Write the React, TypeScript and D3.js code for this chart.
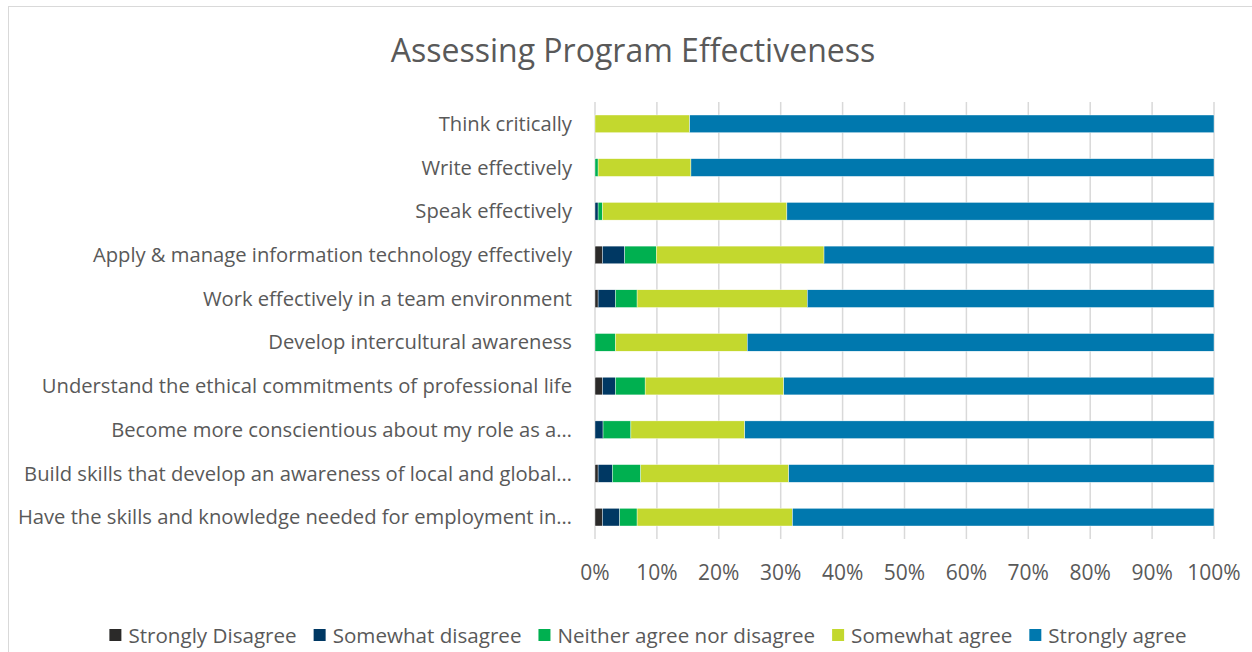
import { useEffect, useRef } from 'react'
import * as d3 from 'd3';

const categories = [
  "Think critically",
  "Write effectively",
  "Speak effectively",
  "Apply & manage information technology effectively",
  "Work effectively in a team environment",
  "Develop intercultural awareness",
  "Understand the ethical commitments of professional life",
  "Become more conscientious about my role as a…",
  "Build skills that develop an awareness of local and global…",
  "Have the skills and knowledge needed for employment in…",
];

const seriesNames = ["Strongly Disagree", "Somewhat disagree", "Neither agree nor disagree", "Somewhat agree", "Strongly agree"];
const seriesColors = ["#2b2a29", "#003863", "#00b050", "#c3d82e", "#0078ae"];

// percentages per category, in the order above
const stronglyDisagree = [0, 0, 0, 1.2, 0.5, 0, 1.2, 0, 0.5, 1.2];
const somewhatDisagree = [0, 0, 0.5, 3.6, 2.8, 0, 2.1, 1.3, 2.3, 2.8];
const neitherAgree = [0, 0.5, 0.7, 5.1, 3.5, 3.3, 4.8, 4.5, 4.6, 2.8];
const somewhatAgree = [15.3, 15.0, 29.8, 27.1, 27.5, 21.3, 22.4, 18.4, 23.9, 25.1];
const stronglyAgree = [84.7, 84.5, 69.0, 63.0, 65.7, 75.4, 69.5, 75.8, 68.7, 68.1];

const tickValues = [0, 10, 20, 30, 40, 50, 60, 70, 80, 90, 100];

const App = () => {
  const canvas = useRef<SVGSVGElement>(null);

  useEffect(() => {
    const width = 1252, height = 652;
    const marginTop = 102, marginBottom = 113, marginLeft = 595, marginRight = 38;
    const font = "'Open Sans', sans-serif";
    const textColor = "#595959";

    const svg = d3.select(canvas.current);
    svg.selectAll("*").remove();

    // Chart frame
    svg.append("rect")
      .attr("x", 8.5).attr("y", 6.5)
      .attr("width", width).attr("height", height)
      .attr("fill", "#fff")
      .attr("stroke", "#d9d9d9");

    // Prep data
    const cols = [stronglyDisagree, somewhatDisagree, neitherAgree, somewhatAgree, stronglyAgree];
    const rows = categories.map((c, i) => {
      const r: any = { cat: c };
      seriesNames.forEach((s, j) => r[s] = cols[j][i]);
      return r;
    });
    const stacked = d3.stack().keys(seriesNames)(rows);

    const x = d3.scaleLinear()
      .domain([0, 100])
      .range([marginLeft, width - marginRight]);

    const y = d3.scaleBand()
      .domain(categories)
      .range([marginTop, height - marginBottom])
      .paddingInner(0.595)
      .paddingOuter(0.2975);

    // Gridlines
    svg.append("g")
      .selectAll()
      .data(tickValues)
      .join("line")
      .attr("x1", (d) => x(d)).attr("x2", (d) => x(d))
      .attr("y1", marginTop).attr("y2", height - marginBottom)
      .attr("stroke", "#d9d9d9")
      .attr("stroke-width", 1.5);

    // Bars
    svg.append("g")
      .selectAll("g")
      .data(stacked)
      .join("g")
      .attr("fill", (d, i) => seriesColors[i])
      .selectAll("rect")
      .data((d) => d.filter((v) => v[1] - v[0] > 0))
      .join("rect")
      .attr("x", (d) => x(d[0]))
      .attr("y", (d: any) => y(d.data.cat))
      .attr("width", (d) => x(d[1]) - x(d[0]))
      .attr("height", y.bandwidth())
      .attr("stroke", "#fff")
      .attr("stroke-width", 0.4);

    // Category labels
    svg.append("g")
      .selectAll()
      .data(categories)
      .join("text")
      .attr("x", marginLeft - 23)
      .attr("y", (d) => y(d) + y.bandwidth() / 2)
      .attr("dy", "0.35em")
      .attr("text-anchor", "end")
      .attr("font-family", font)
      .attr("font-size", 20.2)
      .attr("fill", textColor)
      .text((d) => d);

    // Tick labels
    svg.append("g")
      .selectAll()
      .data(tickValues)
      .join("text")
      .attr("x", (d) => x(d))
      .attr("y", 580)
      .attr("text-anchor", "middle")
      .attr("font-family", font)
      .attr("font-size", 21)
      .attr("fill", textColor)
      .text((d) => d + "%");

    // Title
    svg.append("text")
      .attr("x", 633)
      .attr("y", 62)
      .attr("text-anchor", "middle")
      .attr("font-family", font)
      .attr("font-size", 32)
      .attr("fill", textColor)
      .text("Assessing Program Effectiveness");

    // Legend, centered
    const legend = svg.append("g");
    const sw = 12, gap = 7, itemGap = 17;
    let cx = 0;
    seriesNames.forEach((s, i) => {
      const g = legend.append("g");
      g.append("rect")
        .attr("width", sw).attr("height", sw)
        .attr("y", -sw / 2 - 1)
        .attr("fill", seriesColors[i]);
      const t = g.append("text")
        .attr("x", sw + gap)
        .attr("dy", "0.35em")
        .attr("font-family", font)
        .attr("font-size", 20.6)
        .attr("fill", textColor)
        .text(s);
      const w = sw + gap + (t.node() as SVGTextElement).getComputedTextLength();
      g.attr("transform", `translate(${cx},0)`);
      cx += w + itemGap;
    });
    const total = cx - itemGap;
    legend.attr("transform", `translate(${(106 + 1190) / 2 - total / 2},636)`);

  }, []);

  return (
    <svg ref={canvas} width={1252} height={652}
      style={{ position: 'fixed', left: 0, top: 0, background: '#fff' }} />
  );
}

export default App;
